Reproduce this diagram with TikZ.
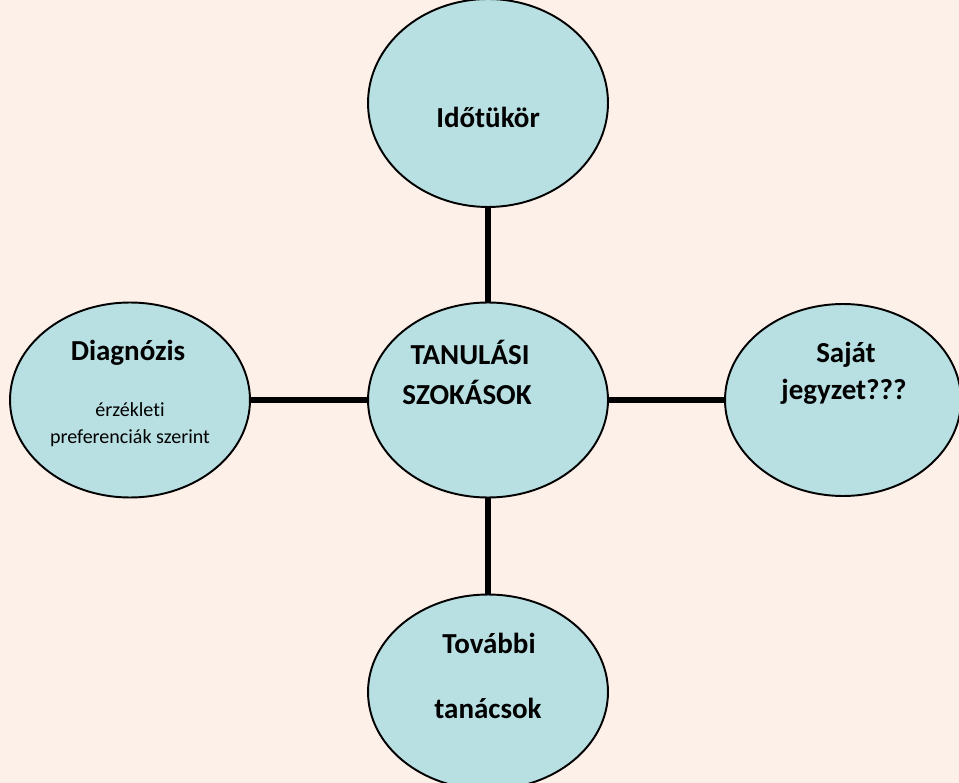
\documentclass[tikz,border=0pt]{standalone}
\usepackage{fontspec}
\setmainfont[RawFeature=-liga]{Carlito}
\usepackage{tikz}
\usetikzlibrary{shapes.geometric}
\definecolor{bgpeach}{RGB}{253,240,233}
\definecolor{bubble}{RGB}{184,223,226}
\tikzset{
  bubblenode/.style={ellipse,draw=black,line width=1.1pt,fill=bubble,minimum width=4.8cm,minimum height=3.9cm,inner sep=0pt},
  bigtxt/.style={font=\fontsize{16.5}{19}\selectfont\bfseries,inner sep=0pt},
  smalltxt/.style={font=\fontsize{11.4}{13}\selectfont,inner sep=0pt},
  spoke/.style={line width=3pt}
}
\begin{document}
\begin{tikzpicture}[x=0.02cm,y=-0.02cm]
\fill [bgpeach] (0,0) rectangle (959,783);
\useasboundingbox (0,0) rectangle (959,783);
% the five bubbles
\node [bubblenode,minimum height=4.16cm] (ido) at (488,103) {};
\node [bubblenode] (tanul) at (488,400) {};
\node [bubblenode] (diag) at (130,400) {};
\node [bubblenode,minimum width=4.72cm,minimum height=3.84cm] (sajat) at (843,400) {};
\node [bubblenode] (tovabbi) at (488,692) {};
% spokes
\draw [spoke] (ido) -- (tanul);
\draw [spoke] (diag) -- (tanul);
\draw [spoke] (tanul) -- (sajat);
\draw [spoke] (tanul) -- (tovabbi);
% labels
\node [bigtxt] (idot) at (488,117) {Időtükör};
\node [bigtxt] (tanult) at (470,352) {TANULÁSI};
\node [bigtxt] (szokt) at (467,392) {SZOKÁSOK};
\node [bigtxt] (diagt) at (128,353) {Diagnózis};
\node [smalltxt] (erzt) at (130,410) {érzékleti};
\node [smalltxt] (preft) at (130,438) {preferenciák szerint};
\node [bigtxt] (sajatt) at (846,355) {Saját};
\node [bigtxt] (jegyt) at (844,392) {jegyzet???};
\node [bigtxt] (tovt) at (489,643) {További};
\node [bigtxt] (tanact) at (488,708) {tanácsok};
\end{tikzpicture}
\end{document}
